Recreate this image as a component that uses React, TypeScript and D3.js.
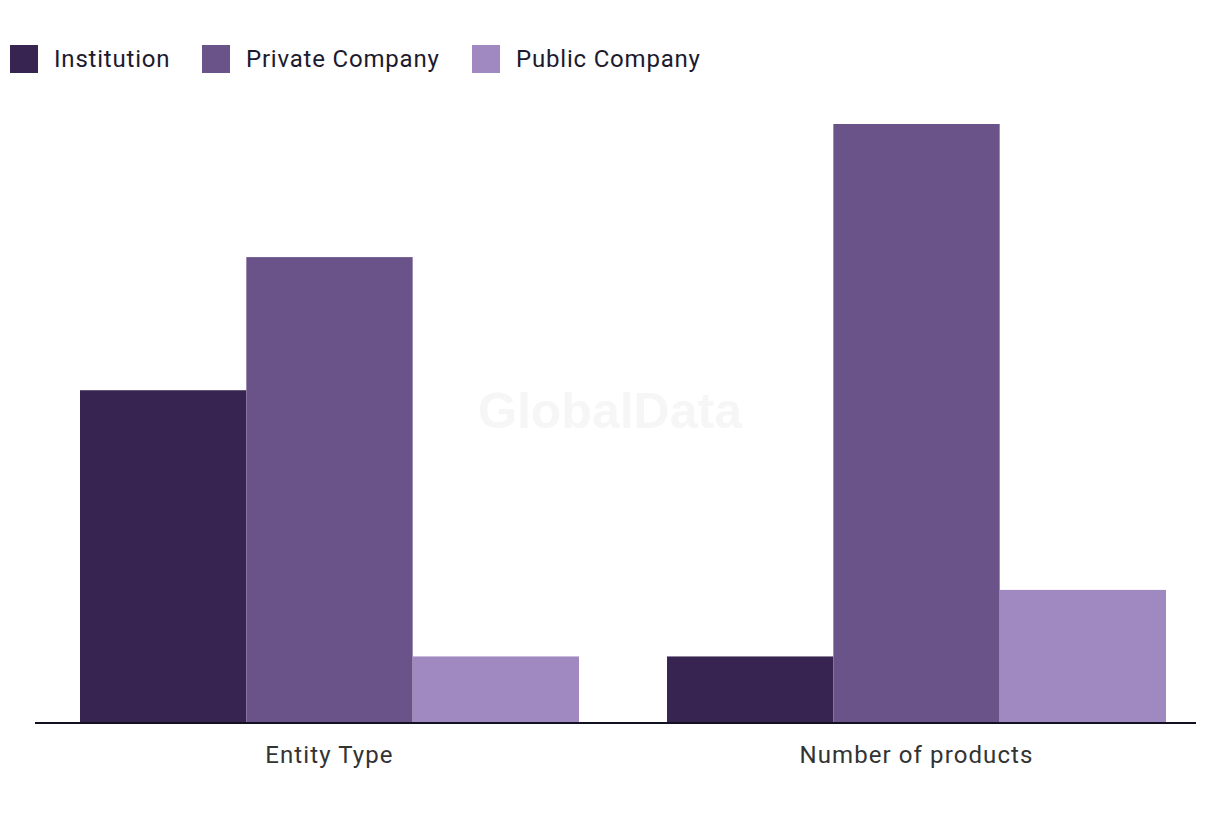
import React from "react";
import * as d3 from "d3";

const categories = ["Entity Type", "Number of products"];
const seriesNames = ["Institution", "Private Company", "Public Company"];
const institution = [5, 1];
const privateCompany = [7, 9];
const publicCompany = [1, 2];
const colors = ["#372451", "#6a5389", "#a088c0"];

export default function App() {
  const W = 1220, H = 820;
  const seriesValues = [institution, privateCompany, publicCompany];
  const x0 = d3.scaleBand<string>().domain(categories).range([80, 1166]).paddingInner(0.15).paddingOuter(0);
  const x1 = d3.scaleBand<string>().domain(seriesNames).range([0, x0.bandwidth()]).padding(0);
  const y = d3.scaleLinear().domain([0, 9]).range([723, 124]);
  const font = "Roboto, 'Noto Sans', sans-serif";
  const legendX = [10, 202, 472];
  return (
    <svg width={W} height={H} style={{ position: "absolute", left: 0, top: 0, background: "#fff" }}>
      <text x={610} y={428} textAnchor="middle" fontFamily="'Liberation Sans', Arial, sans-serif" fontWeight="bold" fontSize={50} fill="#f6f6f6">GlobalData</text>
      {seriesNames.map((s, i) => (
        <g key={s}>
          <rect x={legendX[i]} y={45} width={28} height={28} fill={colors[i]} />
          <text x={legendX[i] + 44} y={67} fontFamily={font} fontSize={24} letterSpacing={0.8} fill="#1c1a2e">{s}</text>
        </g>
      ))}
      {categories.map((c, ci) => (
        <g key={c} transform={`translate(${x0(c)},0)`}>
          {seriesNames.map((s, si) => (
            <rect key={s} x={x1(s)} y={y(seriesValues[si][ci])} width={x1.bandwidth()} height={y(0) - y(seriesValues[si][ci])} fill={colors[si]} />
          ))}
          <text x={x0.bandwidth() / 2} y={763} textAnchor="middle" fontFamily={font} fontSize={24} letterSpacing={1.1} fill="#333">{c}</text>
        </g>
      ))}
      <line x1={35} x2={1196} y1={723} y2={723} stroke="#111122" strokeWidth={2} />
    </svg>
  );
}
